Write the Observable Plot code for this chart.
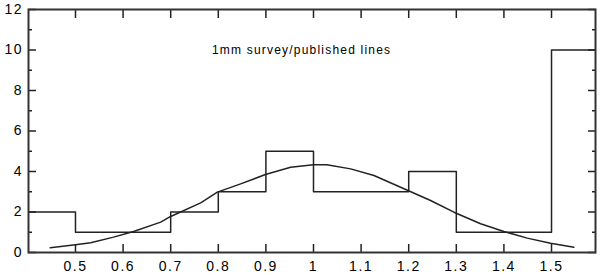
<!DOCTYPE html>
<html>
<head>
<meta charset="utf-8">
<script src="https://cdn.jsdelivr.net/npm/d3@7"></script>
<script src="https://cdn.jsdelivr.net/npm/@observablehq/plot@0.6"></script>
<style>
  html, body { margin: 0; padding: 0; background: #fff; }
  #chart svg { display: block; }
  #chart svg g[aria-label$="axis tick label"] text { letter-spacing: 1.5px; }
  #chart svg g[aria-label="text"] text { letter-spacing: 1.2px; }
</style>
</head>
<body>
<div id="chart"></div>
<script>
// Histogram bins (edges) and counts
const binEdges = [0.4, 0.5, 0.7, 0.8, 0.9, 1.0, 1.2, 1.3, 1.5, 1.6];
const binCounts = [2, 1, 2, 3, 5, 3, 4, 1, 10];

// Fitted gaussian curve points
const curveX = [0.447, 0.5, 0.532, 0.58, 0.622, 0.679, 0.7, 0.763, 0.798, 0.847, 0.899, 0.952, 1.0, 1.028, 1.078, 1.127, 1.183, 1.246, 1.295, 1.351, 1.4, 1.449, 1.498, 1.547];
const curveY = [0.23, 0.38, 0.48, 0.76, 1.04, 1.5, 1.78, 2.45, 2.98, 3.39, 3.85, 4.21, 4.33, 4.33, 4.13, 3.8, 3.22, 2.57, 1.99, 1.42, 1.04, 0.71, 0.46, 0.26];

// Axis ticks
const xTicks = [0.5, 0.6, 0.7, 0.8, 0.9, 1.0, 1.1, 1.2, 1.3, 1.4, 1.5];
const xTickLabels = ["0.5", "0.6", "0.7", "0.8", "0.9", "1", "1.1", "1.2", "1.3", "1.4", "1.5"];
const yMajor = [0, 2, 4, 6, 8, 10, 12];
const yMinor = [1, 3, 5, 7, 9, 11];
const xDomain = [0.4013, 1.5924];
const yDomain = [0, 12];

// Annotation
const annText = ["1mm survey/published lines"];
const annX = [0.975];
const annY = [10];

const steps = binEdges.map((e, i) => ({x: e, y: i < binCounts.length ? binCounts[i] : binCounts[binCounts.length - 1]}));
const curve = curveX.map((x, i) => ({x, y: curveY[i]}));
const labelOf = d => xTickLabels[xTicks.indexOf(d)];

const ink = "#222";
const chart = Plot.plot({
  width: 600,
  height: 275,
  marginLeft: 28,
  marginRight: 5,
  marginTop: 9,
  marginBottom: 23,
  style: {fontFamily: "'Liberation Sans', Arial, sans-serif", fontSize: "14px", color: "#000", background: "#fff"},
  x: {domain: xDomain},
  y: {domain: yDomain},
  marks: [
    Plot.line(steps, {x: "x", y: "y", curve: "step-after", stroke: ink, strokeWidth: 1.5, clip: true}),
    Plot.line(curve, {x: "x", y: "y", stroke: ink, strokeWidth: 1.5}),
    Plot.text(annText, {x: annX, y: annY, text: d => d, fontSize: 12, fill: "#000"}),
    Plot.axisX(xTicks, {anchor: "bottom", tickSize: -8, tickPadding: 17, tickFormat: labelOf, label: null, stroke: ink, strokeWidth: 1.5, fontSize: 14}),
    Plot.axisX(xTicks, {anchor: "top", tickSize: -8, tickFormat: () => "", label: null, stroke: ink, strokeWidth: 1.5}),
    Plot.axisY(yMajor, {anchor: "left", tickSize: -8, tickPadding: 13.5, label: null, stroke: ink, strokeWidth: 1.5, fontSize: 14}),
    Plot.axisY(yMinor, {anchor: "left", tickSize: -4, tickFormat: () => "", label: null, stroke: ink, strokeWidth: 1.5}),
    Plot.axisY(yMajor, {anchor: "right", tickSize: -8, tickFormat: () => "", label: null, stroke: ink, strokeWidth: 1.5}),
    Plot.axisY(yMinor, {anchor: "right", tickSize: -4, tickFormat: () => "", label: null, stroke: ink, strokeWidth: 1.5}),
    Plot.frame({stroke: "#333", strokeWidth: 2})
  ]
});
document.getElementById("chart").append(chart);
</script>
</body>
</html>
